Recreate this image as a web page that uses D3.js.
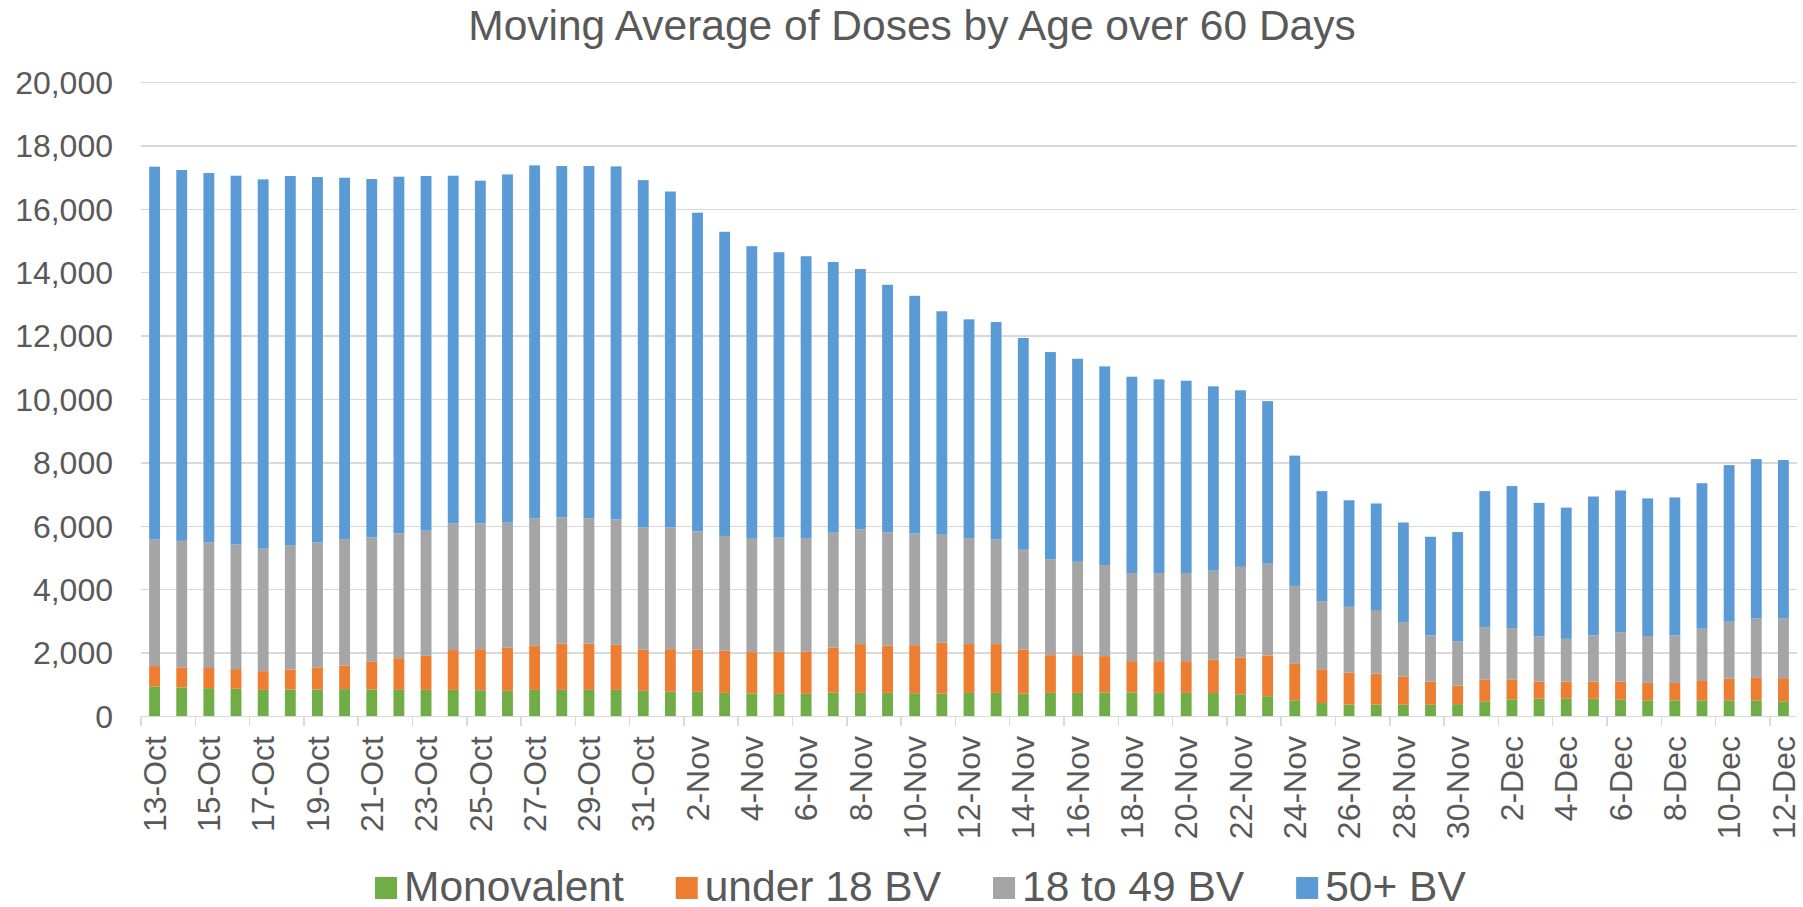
<html>
<head>
<meta charset="utf-8">
<title>Moving Average of Doses by Age over 60 Days</title>
<style>
  body { margin: 0; background: #fff; }
  text { font-family: "Liberation Sans", Arial, sans-serif; fill: #595959; }
  .grid line { stroke: #d9d9d9; stroke-width: 1.5; shape-rendering: crispEdges; }
</style>
</head>
<body>
<script src="https://cdn.jsdelivr.net/npm/d3@7"></script>
<script>

var dates = ["13-Oct","14-Oct","15-Oct","16-Oct","17-Oct","18-Oct","19-Oct","20-Oct","21-Oct","22-Oct",
  "23-Oct","24-Oct","25-Oct","26-Oct","27-Oct","28-Oct","29-Oct","30-Oct","31-Oct","1-Nov",
  "2-Nov","3-Nov","4-Nov","5-Nov","6-Nov","7-Nov","8-Nov","9-Nov","10-Nov","11-Nov",
  "12-Nov","13-Nov","14-Nov","15-Nov","16-Nov","17-Nov","18-Nov","19-Nov","20-Nov","21-Nov",
  "22-Nov","23-Nov","24-Nov","25-Nov","26-Nov","27-Nov","28-Nov","29-Nov","30-Nov","1-Dec",
  "2-Dec","3-Dec","4-Dec","5-Dec","6-Dec","7-Dec","8-Dec","9-Dec","10-Dec","11-Dec","12-Dec"];

// daily values for each series (stacked bottom to top)
var monovalent = [950,915,895,875,840,850,850,865,850,840,840,840,830,810,840,840,840,840,810,780,
  780,745,725,715,715,760,745,745,735,725,745,745,725,745,745,760,760,745,745,740,
  700,640,510,425,380,380,370,370,390,480,540,560,560,560,530,510,510,510,510,510,480];
var under18 = [640,635,635,620,590,635,700,745,875,1000,1075,1255,1295,1360,1390,1455,1455,1420,1295,1345,
  1335,1330,1305,1325,1325,1410,1540,1495,1515,1600,1540,1540,1390,1190,1190,1145,985,1000,1000,1050,
  1160,1285,1150,1065,1000,970,885,730,590,680,630,540,540,540,570,550,550,610,680,710,730];
var age18to49 = [3990,3990,3960,3935,3865,3905,3945,3970,3925,3940,3945,3990,3970,3945,4020,3990,3955,3960,3855,3835,
  3725,3620,3600,3600,3590,3630,3620,3570,3520,3410,3345,3295,3145,3015,2945,2875,2780,2780,2780,2810,
  2860,2895,2460,2150,2080,2010,1725,1460,1390,1660,1620,1430,1350,1460,1560,1480,1500,1650,1800,1870,1880];
var age50plus = [11764,11699,11654,11630,11650,11660,11523,11417,11305,11249,11190,10975,10808,10985,11136,11080,11115,11134,10961,10601,
  10054,9596,9206,9006,8889,8539,8211,7809,7500,7048,6899,6864,6680,6546,6406,6265,6194,6110,6068,5815,
  5570,5128,4110,3470,3360,3360,3140,3110,3450,4290,4480,4210,4140,4380,4470,4340,4350,4590,4940,5030,5000];

var seriesNames = ["Monovalent", "under 18 BV", "18 to 49 BV", "50+ BV"];
var seriesColors = ["#70ad47", "#ed7d31", "#a5a5a5", "#5b9bd5"];
var yTicks = [0,2000,4000,6000,8000,10000,12000,14000,16000,18000,20000];

var width = 1803, height = 907;
var plotLeft = 141, plotRight = 1797, plotTop = 82.5, plotBottom = 716.5;

var svg = d3.select("body").append("svg")
  .attr("width", width)
  .attr("height", height);

var rows = dates.map(function(d, i) {
  return { date: d, "Monovalent": monovalent[i], "under 18 BV": under18[i],
           "18 to 49 BV": age18to49[i], "50+ BV": age50plus[i] };
});

var x = d3.scaleBand().domain(dates).range([plotLeft, plotRight]).paddingInner(0.6).paddingOuter(0.3);
var y = d3.scaleLinear().domain([0, 20000]).range([plotBottom, plotTop]);

// gridlines
svg.append("g").attr("class", "grid")
  .selectAll("line").data(yTicks).enter().append("line")
  .attr("x1", plotLeft).attr("x2", plotRight)
  .attr("y1", function(d) { return y(d); })
  .attr("y2", function(d) { return y(d); });

// y labels
svg.append("g").selectAll("text").data(yTicks).enter().append("text")
  .attr("x", 113)
  .attr("y", function(d) { return y(d); })
  .attr("dy", "0.35em")
  .attr("text-anchor", "end")
  .style("font-size", "32px")
  .text(d3.format(","));

// stacked bars
var stack = d3.stack().keys(seriesNames)(rows);
svg.append("g").selectAll("g").data(stack).enter().append("g")
  .attr("fill", function(d, i) { return seriesColors[i]; })
  .selectAll("rect").data(function(d) { return d; }).enter().append("rect")
  .attr("x", function(d) { return x(d.data.date); })
  .attr("width", x.bandwidth())
  .attr("y", function(d) { return y(d[1]); })
  .attr("height", function(d) { return y(d[0]) - y(d[1]); });

// x axis line and ticks (every 2 categories)
var step = x.step();
var oddDates = dates.filter(function(d, i) { return i % 2 == 0; });
var xa = svg.append("g").attr("class", "grid");
xa.append("line").attr("x1", plotLeft).attr("x2", plotRight).attr("y1", plotBottom).attr("y2", plotBottom);
xa.selectAll(".tk").data(oddDates).enter().append("line")
  .attr("x1", function(d) { return x(d) - step * 0.3; })
  .attr("x2", function(d) { return x(d) - step * 0.3; })
  .attr("y1", plotBottom).attr("y2", plotBottom + 9);

// x labels (every other date)
svg.append("g").selectAll("text")
  .data(oddDates)
  .enter().append("text")
  .attr("transform", function(d) {
    return "translate(" + (x(d) + x.bandwidth() / 2) + ",736) rotate(-90)";
  })
  .attr("dy", "0.35em")
  .attr("text-anchor", "end")
  .style("font-size", "32px")
  .text(function(d) { return d; });

// title
svg.append("text")
  .attr("x", 912).attr("y", 39.5)
  .attr("text-anchor", "middle")
  .style("font-size", "42.5px")
  .text("Moving Average of Doses by Age over 60 Days");

// legend
var lx = 375;
seriesNames.forEach(function(name, i) {
  svg.append("rect").attr("x", lx).attr("y", 877).attr("width", 22).attr("height", 22)
    .attr("fill", seriesColors[i]);
  var t = svg.append("text").attr("x", lx + 29).attr("y", 901)
    .style("font-size", "42.5px").text(name);
  lx += 29 + t.node().getComputedTextLength() + 52;
});

</script>
</body>
</html>
